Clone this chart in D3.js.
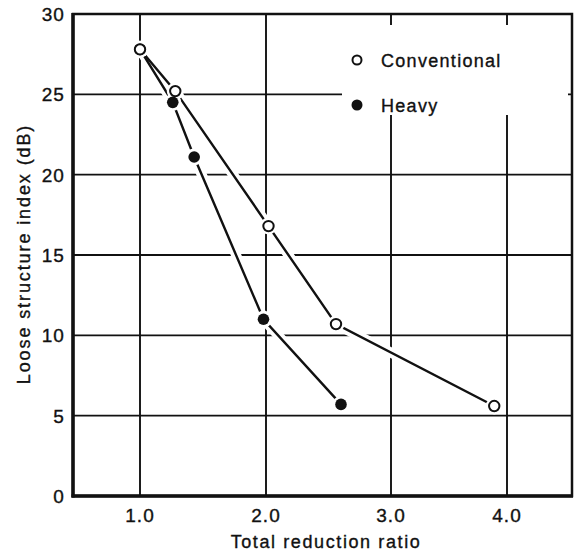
<!DOCTYPE html>
<html>
<head>
<meta charset="utf-8">
<script src="https://cdn.jsdelivr.net/npm/d3@7"></script>
<style>
  html, body { margin: 0; padding: 0; background: #fff; }
  svg text { font-family: "Liberation Sans", Arial, sans-serif; fill: #111; stroke: #111; stroke-width: 0.35px; }
</style>
</head>
<body>
<svg id="chart" width="575" height="553"></svg>
<script>
// ---- data ----
const seriesNames = ["Conventional", "Heavy"];
const convRatio = [1.0, 1.28, 2.02, 2.56, 3.89];
const convIndex = [27.8, 25.2, 16.8, 10.7, 5.6];
const heavyRatio = [1.0, 1.26, 1.43, 1.98, 2.6];
const heavyIndex = [27.8, 24.5, 21.1, 11.0, 5.7];
const xTicks = [1, 2, 3, 4];
const xTickLabels = ["1.0", "2.0", "3.0", "4.0"];
const yTicks = [0, 5, 10, 15, 20, 25, 30];
const xTitle = "Total reduction ratio";
const yTitle = "Loose structure index (dB)";

const conv = convRatio.map((r, i) => ({x: r, y: convIndex[i]}));
const heavy = heavyRatio.map((r, i) => ({x: r, y: heavyIndex[i]}));

// ---- layout ----
const svg = d3.select("#chart");
const L = 73, R = 572, T = 14, B = 496;

// hand-drawn original: tick spacing is slightly uneven
const x = d3.scaleLinear().domain([0.47, 1, 2, 3, 4, 4.57]).range([L, 140, 266, 391, 507, R]);
const y = d3.scaleLinear().domain([0, 30]).range([B, T]);

svg.append("rect").attr("width", 575).attr("height", 553).attr("fill", "#fff");

// grid
const grid = svg.append("g").attr("stroke", "#111").attr("stroke-width", 1.9);
grid.selectAll("line.v").data(xTicks).join("line")
  .attr("x1", d => x(d)).attr("x2", d => x(d)).attr("y1", T).attr("y2", B);
grid.selectAll("line.h").data(yTicks.filter(d => d > 0 && d < 30)).join("line")
  .attr("x1", L).attr("x2", R).attr("y1", d => y(d)).attr("y2", d => y(d));

// legend background (breaks the grid)
svg.append("rect").attr("x", 342).attr("y", 25).attr("width", 226).attr("height", 90).attr("fill", "#fff");

// frame
svg.append("rect").attr("x", L).attr("y", T).attr("width", R - L).attr("height", B - T)
  .attr("fill", "none").attr("stroke", "#111").attr("stroke-width", 2.5);
svg.append("line").attr("x1", L).attr("x2", L).attr("y1", T - 1).attr("y2", B + 1.5)
  .attr("stroke", "#111").attr("stroke-width", 3.5);
svg.append("line").attr("x1", L - 1.5).attr("x2", R + 1).attr("y1", B).attr("y2", B)
  .attr("stroke", "#111").attr("stroke-width", 3.5);

// axis labels
const fs = 19, ls = 1.1;
svg.append("g").selectAll("text").data(yTicks).join("text")
  .attr("x", 65).attr("y", d => y(d) + 7).attr("text-anchor", "end")
  .attr("font-size", fs).attr("letter-spacing", ls).text(d => d);
svg.append("g").selectAll("text").data(xTicks).join("text")
  .attr("x", d => x(d)).attr("y", 522).attr("text-anchor", "middle")
  .attr("font-size", fs).attr("letter-spacing", ls).text((d, i) => xTickLabels[i]);
svg.append("text").attr("x", 326).attr("y", 548).attr("text-anchor", "middle")
  .attr("font-size", 18).attr("letter-spacing", 1.6).text(xTitle);
svg.append("text").attr("transform", "translate(30,254) rotate(-90)").attr("text-anchor", "middle")
  .attr("font-size", 18).attr("letter-spacing", 1.9).text(yTitle);

// data lines with white halo
const line = d3.line().x(d => x(d.x)).y(d => y(d.y));
const series = [conv, heavy];
svg.append("g").selectAll("path").data(series).join("path")
  .attr("d", line).attr("fill", "none").attr("stroke", "#fff").attr("stroke-width", 10);
svg.append("g").selectAll("path").data(series).join("path")
  .attr("d", line).attr("fill", "none").attr("stroke", "#111").attr("stroke-width", 2.4);

// marker halos
svg.append("g").selectAll("circle").data(conv.concat(heavy)).join("circle")
  .attr("cx", d => x(d.x)).attr("cy", d => y(d.y)).attr("r", 8.5).attr("fill", "#fff");
// markers
svg.append("g").selectAll("circle").data(heavy).join("circle")
  .attr("cx", d => x(d.x)).attr("cy", d => y(d.y)).attr("r", 5.8).attr("fill", "#111");
svg.append("g").selectAll("circle").data(conv).join("circle")
  .attr("cx", d => x(d.x)).attr("cy", d => y(d.y)).attr("r", 5.2)
  .attr("fill", "#fff").attr("stroke", "#111").attr("stroke-width", 2);

// legend
const leg = svg.append("g").selectAll("g").data(seriesNames).join("g")
  .attr("transform", (d, i) => `translate(357,${60 + i * 45})`);
leg.append("circle").attr("r", (d, i) => i === 0 ? 4.5 : 5.5)
  .attr("fill", (d, i) => i === 0 ? "#fff" : "#111")
  .attr("stroke", "#111").attr("stroke-width", (d, i) => i === 0 ? 2 : 0);
leg.append("text").attr("x", 24).attr("y", 6.5).attr("font-size", 18).attr("letter-spacing", 1.3).text(d => d);
</script>
</body>
</html>
